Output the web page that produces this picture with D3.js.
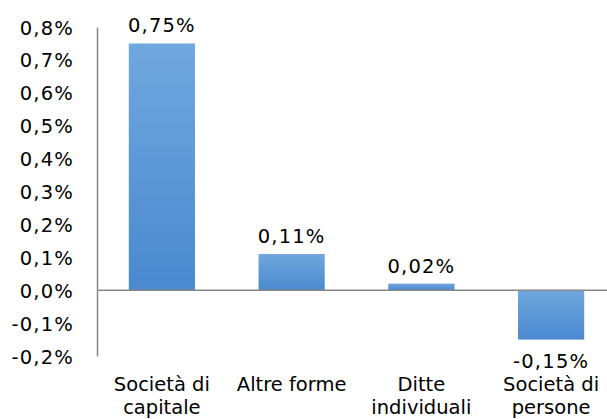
<!DOCTYPE html>
<html>
<head>
<meta charset="utf-8">
<script src="https://cdn.jsdelivr.net/npm/d3@7"></script>
<style>
  body { margin: 0; background: #fff; }
  text { font-family: "DejaVu Sans", Verdana, sans-serif; fill: #000; }
</style>
</head>
<body>
<div id="chart"></div>
<script>
// dati
const categories = ["Società di|capitale", "Altre forme", "Ditte|individuali", "Società di|persone"];
const values = [0.75, 0.11, 0.02, -0.15];
const tickValues = [-0.2, -0.1, 0, 0.1, 0.2, 0.3, 0.4, 0.5, 0.6, 0.7, 0.8];

const width = 607, height = 419;
const fmt = v => d3.format(".1f")(v).replace(".", ",").replace("−", "-") + "%";
const fmt2 = v => d3.format(".2f")(v).replace(".", ",").replace("−", "-") + "%";

const svg = d3.select("#chart")
    .append("svg")
    .attr("width", width)
    .attr("height", height);

const x = d3.scaleBand()
    .domain(categories)
    .range([97, 616])
    .paddingInner(0.49)
    .paddingOuter(0.245);

const y = d3.scaleLinear()
    .domain([-0.2, 0.8])
    .range([356, 27]);

// gradiente delle barre
const grad = svg.append("defs").append("linearGradient")
    .attr("id", "barGrad")
    .attr("x1", 0).attr("y1", 0).attr("x2", 0).attr("y2", 1);
grad.append("stop").attr("offset", "0%").attr("stop-color", "#70a7de");
grad.append("stop").attr("offset", "100%").attr("stop-color", "#4a89cf");

// asse y
const yAxis = svg.append("g")
    .attr("transform", "translate(97,0)")
    .call(d3.axisLeft(y).tickValues(tickValues).tickFormat(fmt).tickSize(0).tickPadding(23));
yAxis.select(".domain").attr("stroke", "#868686").attr("stroke-width", 1.5);
yAxis.selectAll("text")
    .style("font-size", "19.5px")
    .style("letter-spacing", "1.2px")
    .attr("dy", "0.36em");

// barre
svg.selectAll("rect.bar")
    .data(values)
    .enter()
    .append("rect")
    .attr("class", "bar")
    .attr("x", (d, i) => x(categories[i]))
    .attr("y", d => y(Math.max(0, d)))
    .attr("width", x.bandwidth())
    .attr("height", d => Math.abs(y(d) - y(0)))
    .attr("fill", "url(#barGrad)");

// linea dello zero
svg.append("line")
    .attr("x1", 97).attr("x2", width)
    .attr("y1", y(0)).attr("y2", y(0))
    .attr("stroke", "#868686")
    .attr("stroke-width", 1.5);

// etichette dei valori
svg.selectAll("text.val")
    .data(values)
    .enter()
    .append("text")
    .attr("class", "val")
    .attr("x", (d, i) => x(categories[i]) + x.bandwidth() / 2)
    .attr("y", d => d >= 0 ? y(d) - 11 : y(d) + 28)
    .attr("text-anchor", "middle")
    .style("font-size", "19.5px")
    .style("letter-spacing", "1.2px")
    .text(fmt2);

// etichette delle categorie ("|" = a capo)
svg.selectAll("text.cat")
    .data(categories)
    .enter()
    .append("text")
    .attr("class", "cat")
    .attr("y", 391)
    .attr("text-anchor", "middle")
    .style("font-size", "19.5px")
    .each(function(d) {
        const cx = x(d) + x.bandwidth() / 2;
        d.split("|").forEach((line, i) => {
            d3.select(this).append("tspan")
                .attr("x", cx)
                .attr("dy", i === 0 ? 0 : 23)
                .text(line);
        });
    });
</script>
</body>
</html>
